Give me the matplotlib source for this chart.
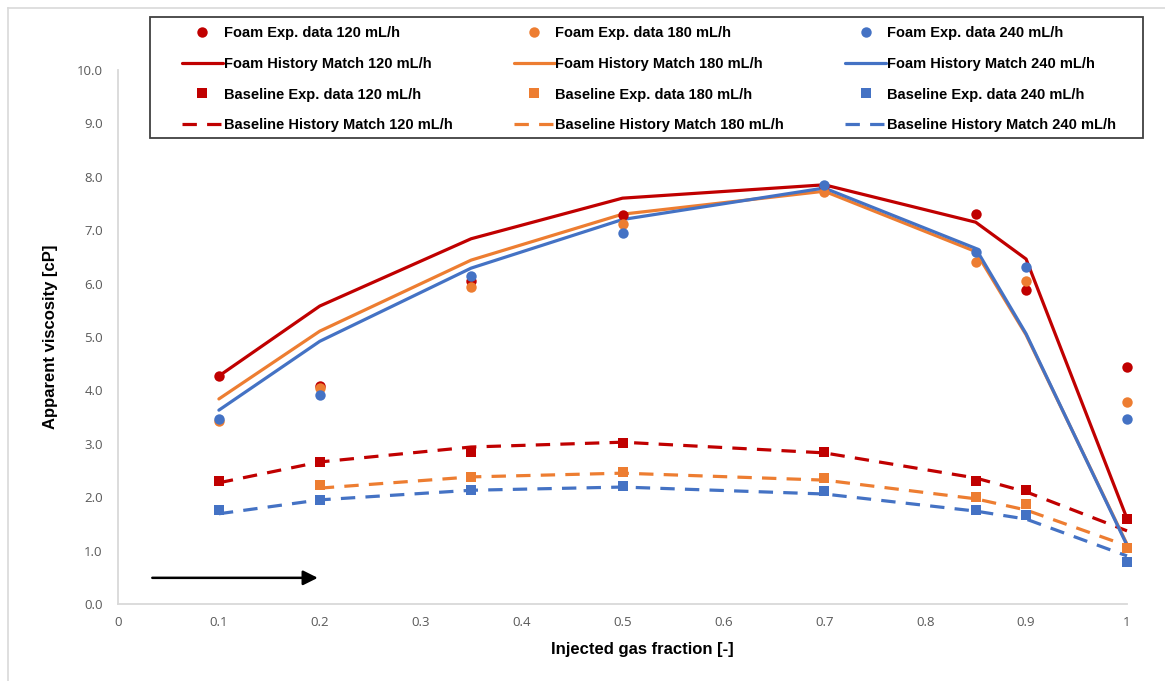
import numpy as np
import matplotlib
matplotlib.use("Agg")
import matplotlib.pyplot as plt
from matplotlib.lines import Line2D
from matplotlib.patches import Rectangle

# Injected gas fraction
gas_fraction = [0.1, 0.2, 0.35, 0.5, 0.7, 0.85, 0.9, 1.0]

# Foam experiments and history match (apparent viscosity, cP)
foam_exp_120 = [4.27, 4.08, 6.05, 7.28, 7.83, 7.30, 5.88, 4.44]
foam_exp_180 = [3.43, 4.04, 5.94, 7.12, 7.72, 6.40, 6.05, 3.78]
foam_exp_240 = [3.46, 3.91, 6.14, 6.95, 7.85, 6.59, 6.31, 3.46]
foam_hm_120 = [4.27, 5.58, 6.84, 7.60, 7.85, 7.15, 6.46, 1.60]
foam_hm_180 = [3.84, 5.11, 6.44, 7.30, 7.73, 6.60, 5.04, 1.12]
foam_hm_240 = [3.63, 4.92, 6.29, 7.20, 7.79, 6.66, 5.06, 1.10]

# Baseline experiments and history match (apparent viscosity, cP)
base_exp_120 = [2.30, 2.66, 2.85, 3.01, 2.85, 2.30, 2.13, 1.59]
base_exp_180 = [np.nan, 2.23, 2.38, 2.47, 2.36, 2.00, 1.87, 1.05]
base_exp_240 = [1.76, 1.95, 2.13, 2.21, 2.12, 1.76, 1.67, 0.79]
base_hm_120 = [2.27, 2.66, 2.94, 3.03, 2.83, 2.36, 2.10, 1.37]
base_hm_180 = [np.nan, 2.17, 2.38, 2.45, 2.32, 1.97, 1.76, 1.09]
base_hm_240 = [1.69, 1.95, 2.13, 2.19, 2.06, 1.74, 1.59, 0.90]

rates = ["120", "180", "240"]
colors = ["#C00000", "#ED7D31", "#4472C4"]

x_ticks = [0, 0.1, 0.2, 0.3, 0.4, 0.5, 0.6, 0.7, 0.8, 0.9, 1.0]
x_tick_labels = ["0", "0.1", "0.2", "0.3", "0.4", "0.5", "0.6", "0.7", "0.8", "0.9", "1"]
y_ticks = np.arange(0, 10.01, 1.0)

label_font = ["Liberation Sans", "DejaVu Sans"]
tick_font = ["Open Sans", "DejaVu Sans"]

W, H = 1165, 681
fig = plt.figure(figsize=(W / 100, H / 100), dpi=100)
ax = fig.add_axes([118 / W, 1 - 604 / H, 1009 / W, 534 / H])

foam_exp = [foam_exp_120, foam_exp_180, foam_exp_240]
foam_hm = [foam_hm_120, foam_hm_180, foam_hm_240]
base_exp = [base_exp_120, base_exp_180, base_exp_240]
base_hm = [base_hm_120, base_hm_180, base_hm_240]

handles = {}
for i, (r, c) in enumerate(zip(rates, colors)):
    h, = ax.plot(gas_fraction, foam_hm[i], color=c, lw=2.3, solid_capstyle="round",
                 label=f"Foam History Match {r} mL/h", zorder=2, clip_on=False)
    handles[("fh", i)] = h
    h, = ax.plot(gas_fraction, base_hm[i], color=c, lw=2.3, ls=(0, (4.5, 3.2)),
                 label=f"Baseline History Match {r} mL/h", zorder=2, clip_on=False)
    handles[("bh", i)] = h
for i, (r, c) in enumerate(zip(rates, colors)):
    h, = ax.plot(gas_fraction, foam_exp[i], ls="none", marker="o", ms=7.5, mew=0,
                 color=c, label=f"Foam Exp. data {r} mL/h", zorder=3, clip_on=False)
    handles[("fe", i)] = h
    h, = ax.plot(gas_fraction, base_exp[i], ls="none", marker="s", ms=7.5, mew=0,
                 color=c, label=f"Baseline Exp. data {r} mL/h", zorder=3, clip_on=False)
    handles[("be", i)] = h

ax.set_xlim(0, 1)
ax.set_ylim(0, 10)
ax.set_xticks(x_ticks)
ax.set_xticklabels(x_tick_labels)
ax.set_yticks(y_ticks)
ax.set_yticklabels([f"{v:.1f}" for v in y_ticks])
ax.tick_params(length=0, colors="#595959", labelsize=9.5)
ax.tick_params(axis="y", pad=11)
ax.tick_params(axis="x", pad=9)
for lab in ax.get_xticklabels() + ax.get_yticklabels():
    lab.set_family(tick_font)

for side in ["top", "right"]:
    ax.spines[side].set_visible(False)
for side in ["left", "bottom"]:
    ax.spines[side].set_color("#D9D9D9")
    ax.spines[side].set_linewidth(1.3)

ax.set_xlabel("Injected gas fraction [-]", family=label_font, fontweight="bold",
              fontsize=12, color="#000000")
ax.set_ylabel("Apparent viscosity [cP]", family=label_font, fontweight="bold",
              fontsize=12, color="#000000")
ax.xaxis.set_label_coords(0.52, -38 / 534)
ax.yaxis.set_label_coords(-60 / 1009, 0.5)

# Arrow near the bottom-left corner
ax.annotate("", xy=(0.198, 0.49), xytext=(0.034, 0.49),
            arrowprops=dict(arrowstyle="-|>", color="black", lw=1.8,
                            mutation_scale=22, shrinkA=0, shrinkB=0))

# Legend box
fig.add_artist(Rectangle((150 / W, 1 - 138 / H), 993 / W, 121 / H,
                         transform=fig.transFigure, fill=False,
                         edgecolor="#404040", lw=1.3))

# Legend: 4 rows x 3 columns, filled column by column
order = []
for i in range(3):
    order += [handles[("fe", i)], handles[("fh", i)], handles[("be", i)], handles[("bh", i)]]
leg = fig.legend(handles=order, labels=[h.get_label() for h in order], ncol=3,
                 loc="upper left",
                 bbox_to_anchor=(182 / W, 1 - 26 / H, 934 / W, 0.0),
                 mode="expand", frameon=False,
                 prop=dict(family=label_font, weight="bold", size=10.5),
                 handlelength=2.8, handletextpad=0.05, labelspacing=1.15,
                 borderpad=0, borderaxespad=0, columnspacing=2.0)

# Thin frame around the figure
fig.add_artist(Line2D([8 / W, 8 / W], [0, 1 - 8 / H], transform=fig.transFigure,
                      color="#D9D9D9", lw=1.2))
fig.add_artist(Line2D([8 / W, 1], [1 - 8 / H, 1 - 8 / H], transform=fig.transFigure,
                      color="#D9D9D9", lw=1.2))

fig.savefig("out.png", dpi=100, facecolor="white")
